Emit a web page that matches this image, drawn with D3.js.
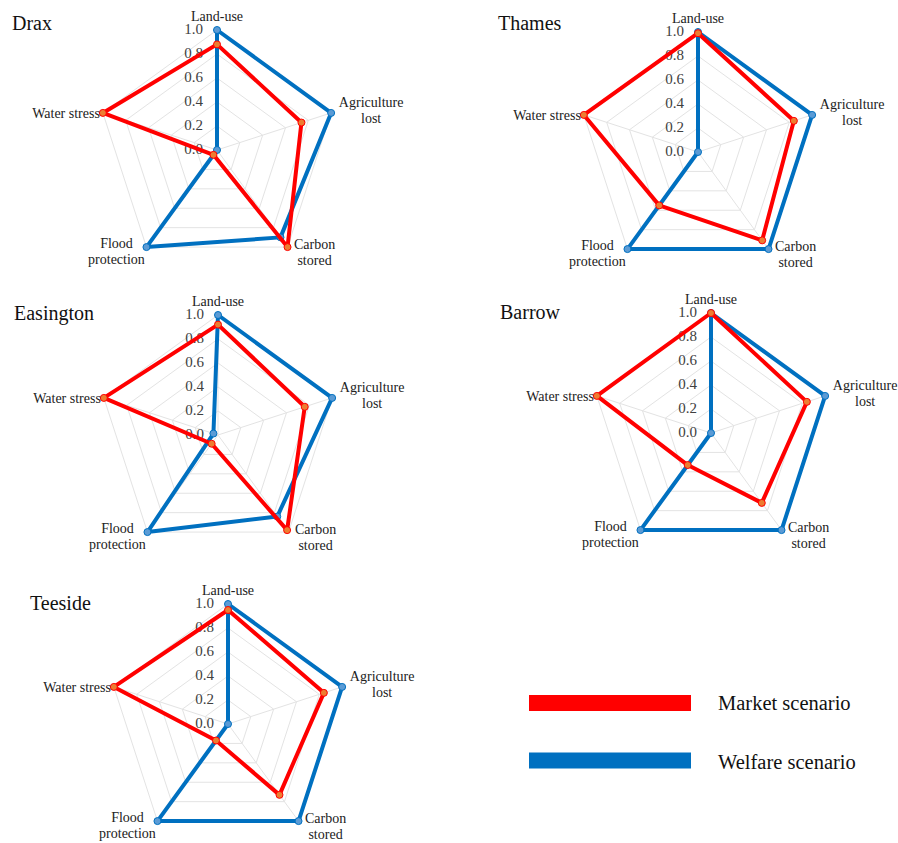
<!DOCTYPE html>
<html>
<head>
<meta charset="utf-8">
<script src="https://cdn.jsdelivr.net/npm/d3@7"></script>
<style>
  body { margin: 0; background: #fff; }
</style>
</head>
<body>
<div id="chart"></div>
<script>
const axisNames = ['Land-use', 'Agriculture lost', 'Carbon stored', 'Flood protection', 'Water stress']
const sites = ['Drax', 'Thames', 'Easington', 'Barrow', 'Teeside']
const tickValues = [0, 0.2, 0.4, 0.6, 0.8, 1.0]
const seriesNames = ['Market scenario', 'Welfare scenario']

// values per site, in axisNames order
const market = [
    [0.88, 0.74, 1.00, 0.05, 1.00],
    [0.99, 0.84, 0.91, 0.55, 1.00],
    [0.92, 0.76, 0.98, 0.09, 1.00],
    [1.00, 0.84, 0.72, 0.33, 1.00],
    [0.95, 0.84, 0.73, 0.17, 1.00]
]
const welfare = [
    [1.00, 1.00, 0.90, 1.00, 0.00],
    [1.00, 1.00, 1.00, 1.00, 0.00],
    [1.00, 1.00, 0.84, 1.00, 0.04],
    [1.00, 1.00, 1.00, 1.00, 0.00],
    [1.00, 1.00, 1.00, 1.00, 0.00]
]

const width = 898
const height = 843
const radius = 120
const serif = "'Liberation Serif'"

// panel layout: centre of each radar + title spot
const panels = [
    { cx: 217, cy: 150, tx: 12, ty: 30 },
    { cx: 698, cy: 152, tx: 498, ty: 30 },
    { cx: 218, cy: 435, tx: 14, ty: 320 },
    { cx: 711, cy: 433, tx: 500, ty: 319 },
    { cx: 228, cy: 724, tx: 30, ty: 610 }
]

const colors = { line: ['#ff0000', '#0070c0'], dot: ['#ed7d31', '#5b9bd5'] }

const svg = d3.select('#chart')
    .append('svg')
    .attr('width', width)
    .attr('height', height)

const rScale = d3.scaleLinear().domain([0, 1]).range([0, radius])
const angle = d3.scalePoint().domain(axisNames).range([0, 2 * Math.PI * 4 / 5])

const radar = d3.lineRadial()
    .angle((d, i) => angle(axisNames[i]))
    .radius(d => rScale(d))
    .curve(d3.curveLinearClosed)

function pos(name, v) {
    const a = angle(name)
    return [rScale(v) * Math.sin(a), -rScale(v) * Math.cos(a)]
}

sites.forEach((site, s) => {
    const p = panels[s]
    const g = svg.append('g').attr('transform', `translate(${p.cx}, ${p.cy})`)

    // grid pentagons
    g.selectAll('.grid')
        .data(tickValues.filter(t => t > 0))
        .enter()
        .append('path')
        .attr('d', t => radar(axisNames.map(() => t)))
        .attr('fill', 'none')
        .attr('stroke', '#e3e3e3')
        .attr('stroke-width', 1)

    // spokes
    g.selectAll('.spoke')
        .data(axisNames)
        .enter()
        .append('line')
        .attr('x1', 0).attr('y1', 0)
        .attr('x2', d => pos(d, 1)[0])
        .attr('y2', d => pos(d, 1)[1])
        .attr('stroke', '#e3e3e3')
        .attr('stroke-width', 1)

    // tick labels
    g.selectAll('.tick')
        .data(tickValues)
        .enter()
        .append('text')
        .attr('x', -14)
        .attr('y', t => -rScale(t) + 1)
        .attr('text-anchor', 'end')
        .attr('dominant-baseline', 'middle')
        .style('font-family', serif)
        .attr('font-size', 15)
        .attr('fill', '#404040')
        .text(t => d3.format('.1f')(t))

    // series (welfare under market)
    const series = [welfare[s], market[s]]
    const idx = [1, 0]
    series.forEach((vals, k) => {
        const c = idx[k]
        g.append('path')
            .attr('d', radar(vals))
            .attr('fill', 'none')
            .attr('stroke', colors.line[c])
            .attr('stroke-width', 4)
            .attr('stroke-linejoin', 'round')
        g.selectAll('.dot' + c)
            .data(vals)
            .enter()
            .append('circle')
            .attr('cx', (d, i) => pos(axisNames[i], d)[0])
            .attr('cy', (d, i) => pos(axisNames[i], d)[1])
            .attr('r', 3.5)
            .attr('fill', colors.dot[c])
            .attr('stroke', colors.line[c])
            .attr('stroke-width', 1)
    })

    // axis labels
    const lab = (x, y, lines, anchor) => {
        const t = g.append('text')
            .attr('x', x).attr('y', y)
            .attr('text-anchor', anchor)
            .style('font-family', serif)
            .attr('font-size', 14)
            .attr('fill', '#222')
        lines.forEach((l, j) => {
            t.append('tspan').attr('x', x).attr('dy', j ? 16 : 0).text(l)
        })
    }
    const v0 = pos(axisNames[0], 1)
    const v1 = pos(axisNames[1], 1)
    const v2 = pos(axisNames[2], 1)
    const v3 = pos(axisNames[3], 1)
    const v4 = pos(axisNames[4], 1)
    lab(v0[0], v0[1] - 9, ['Land-use'], 'middle')
    lab(v1[0] + 40, v1[1] - 6, ['Agriculture', 'lost'], 'middle')
    lab(v2[0] + 27, v2[1] + 2, ['Carbon', 'stored'], 'middle')
    lab(v3[0] - 30, v3[1] + 1, ['Flood', 'protection'], 'middle')
    lab(v4[0] - 3, v4[1] + 5, ['Water stress'], 'end')

    svg.append('text')
        .attr('x', p.tx)
        .attr('y', p.ty)
        .style('font-family', serif)
        .attr('font-size', 20)
        .attr('fill', '#111')
        .text(site)
})

// legend
const legend = svg.append('g')
seriesNames.forEach((name, i) => {
    legend.append('rect')
        .attr('x', 529)
        .attr('y', 695 + i * 57.5)
        .attr('width', 162)
        .attr('height', 16)
        .attr('fill', colors.line[i])
    legend.append('text')
        .attr('x', 718)
        .attr('y', 710 + i * 59)
        .style('font-family', serif)
        .attr('font-size', 20.5)
        .attr('fill', '#111')
        .text(name)
})
</script>
</body>
</html>
